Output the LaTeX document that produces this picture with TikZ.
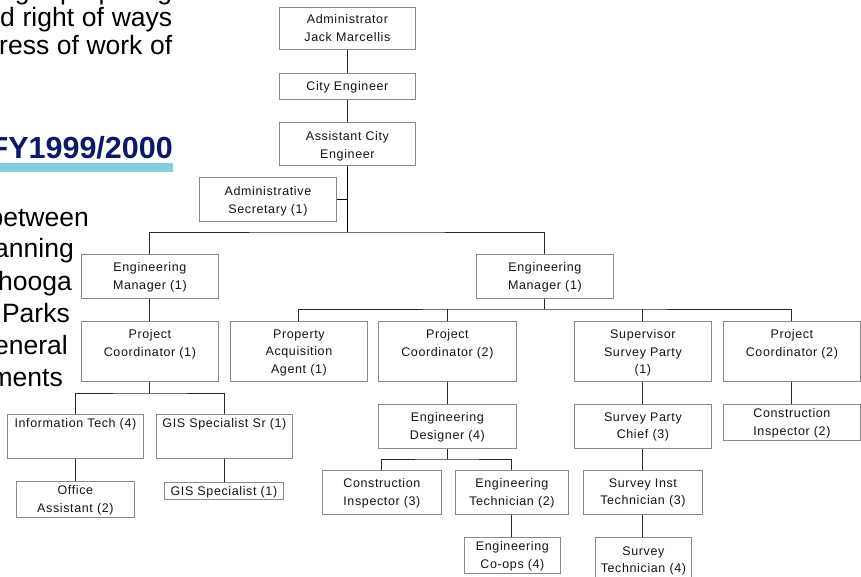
\documentclass[tikz,border=0pt]{standalone}
\usepackage{fontspec}
\setmainfont{Liberation Sans}
\newfontfamily\chartfont{Liberation Sans}[LetterSpace=5]
\definecolor{boxgray}{RGB}{138,138,138}
\definecolor{linkgray}{RGB}{40,40,40}
\definecolor{ink}{RGB}{20,20,20}
\definecolor{navy}{RGB}{10,26,104}
\definecolor{barblue}{RGB}{128,206,225}

% one chart position: name, left, top, width, height, first-line offset, text
\newcommand\orgbox[7]{%
  \node[box, minimum width=#4pt, minimum height=#5pt] (#1) at (#2,#3) {};
  \node[boxtext] (#1-txt) at ([yshift=-#6pt]#1.north) {#7};
}

\begin{document}
\begin{tikzpicture}[x=1pt,y=-1pt,
  box/.style={draw=boxgray, line width=0.8pt, fill=white, inner sep=0pt, anchor=north west},
  boxtext/.style={font=\chartfont\fontsize{12.5}{17.5}\selectfont, text=ink, align=center, inner sep=0pt, anchor=north},
  link/.style={draw=linkgray, line width=0.9pt},
  trunk/.style={draw=black, line width=1.5pt},
  slidetext/.style={font=\fontsize{26.5}{28}\selectfont, text=black, inner sep=0pt, anchor=base west},
  slideright/.style={font=\fontsize{26.5}{28}\selectfont, text=black, inner sep=0pt, anchor=base east}
]
\useasboundingbox (0,0) rectangle (861,577);
\clip (0,0) rectangle (861,577);

% slide text running behind the chart
\node[slidetext] (t1) at (0,0) {\makebox[172pt][s]{ng preparing}};
\node[slidetext] (t2) at (0,26.7) {\makebox[172pt][s]{d right of ways}};
\node[slidetext] (t3) at (-1,55) {\makebox[173pt][s]{ress of work of}};

\fill[barblue] (0,163) rectangle (173,172);
\node[font=\bfseries\fontsize{30.5}{32}\selectfont, text=navy, inner sep=0pt, anchor=base east] (fy) at (173,159) {FY1999/2000};

\node[slideright] (t4) at (89,226) {between};
\node[slideright] (t5) at (74,258) {anning};
\node[slideright] (t6) at (72,290) {hooga};
\node[slideright] (t7) at (70,322) {Parks};
\node[slideright] (t8) at (68,354) {eneral};
\node[slideright] (t9) at (63,386) {ments};

% chart positions
\orgbox{adm}{279}{7}{136}{42}{7.5}{Administrator\\Jack Marcellis}
\orgbox{city}{279}{73}{136}{26}{8.5}{City Engineer}
\orgbox{ace}{279}{122}{136}{43}{9.5}{Assistant City\\Engineer}
\orgbox{sec}{199}{177}{137}{44}{9.5}{Administrative\\Secretary (1)}

\orgbox{em1}{81}{254}{137}{44}{8.5}{Engineering\\Manager (1)}
\orgbox{em2}{476}{254}{137}{44}{8.5}{Engineering\\Manager (1)}

\orgbox{pc1}{81}{321}{137}{60}{8.5}{Project\\Coordinator (1)}
\orgbox{pa}{230}{321}{137}{60}{8.5}{Property\\Acquisition\\Agent (1)}
\orgbox{pc2}{378}{321}{138}{60}{8.5}{Project\\Coordinator (2)}
\orgbox{sup}{574}{321}{137}{60}{8.5}{Supervisor\\Survey Party\\(1)}
\orgbox{pc3}{723}{321}{137}{60}{8.5}{Project\\Coordinator (2)}

\orgbox{it}{7}{414}{136}{44}{4.5}{Information Tech (4)}
\orgbox{gis}{156}{414}{136}{44}{4.5}{GIS Specialist Sr (1)}
\orgbox{oa}{16}{481}{118}{36}{4.5}{Office\\Assistant (2)}
\orgbox{gs}{164}{482}{119}{17}{4}{GIS Specialist (1)}

\orgbox{ed}{378}{404}{138}{44}{8.5}{Engineering\\Designer (4)}
\orgbox{spc}{574}{404}{137}{44}{8.5}{Survey Party\\Chief (3)}
\orgbox{ci2}{723}{404}{137}{36}{4.5}{Construction\\Inspector (2)}

\orgbox{ci3}{322}{470}{119}{44}{8.5}{Construction\\Inspector (3)}
\orgbox{et}{455}{470}{113}{44}{8.5}{Engineering\\Technician (2)}
\orgbox{sit}{583}{470}{119}{44}{8.5}{Survey Inst\\Technician (3)}

\orgbox{co}{464}{537}{96}{36}{4.5}{Engineering\\Co-ops (4)}
\orgbox{st}{595}{537}{96}{48}{9.5}{Survey\\Technician (4)}

% bus levels for the branch lines
\coordinate (lvl1) at (0,232);
\coordinate (lvl2) at (0,309);
\coordinate (lvl3) at (0,393);
\coordinate (lvl4) at (0,459);

% reporting lines
\draw[link] (adm.south) -- (city.north);
\draw[link] (city.south) -- (ace.north);
\draw[trunk] (ace.south) -- (ace.south |- lvl1);
\draw[trunk] (sec.east) -- (sec.east -| ace.south);
\draw[link] (em1.north) |- (ace.south |- lvl1) -| (em2.north);

\draw[link] (em2.south) -- (em2.south |- lvl2);
\draw[link] (pa.north) |- (em2.south |- lvl2) -| (pc3.north);
\draw[link] (pc2.north) -- (pc2.north |- lvl2);
\draw[link] (sup.north) -- (sup.north |- lvl2);
\draw[link] (em1.south) -- (pc1.north);

\draw[link] (pc1.south) -- (pc1.south |- lvl3);
\draw[link] (it.north) |- (pc1.south |- lvl3) -| (gis.north);
\draw[link] (it.south) -- (it.south |- oa.north);
\draw[link] (gis.south) -- (gis.south |- gs.north);

\draw[link] (pc2.south) -- (ed.north);
\draw[link] (ed.south) -- (ed.south |- lvl4);
\draw[link] (ci3.north) |- (ed.south |- lvl4) -| (et.north);
\draw[link] (et.south) -- (et.south |- co.north);

\draw[link] (sup.south) -- (spc.north);
\draw[link] (spc.south) -- (spc.south |- sit.north);
\draw[link] (sit.south) -- (sit.south |- st.north);
\draw[link] (pc3.south) -- (ci2.north);
\end{tikzpicture}
\end{document}
